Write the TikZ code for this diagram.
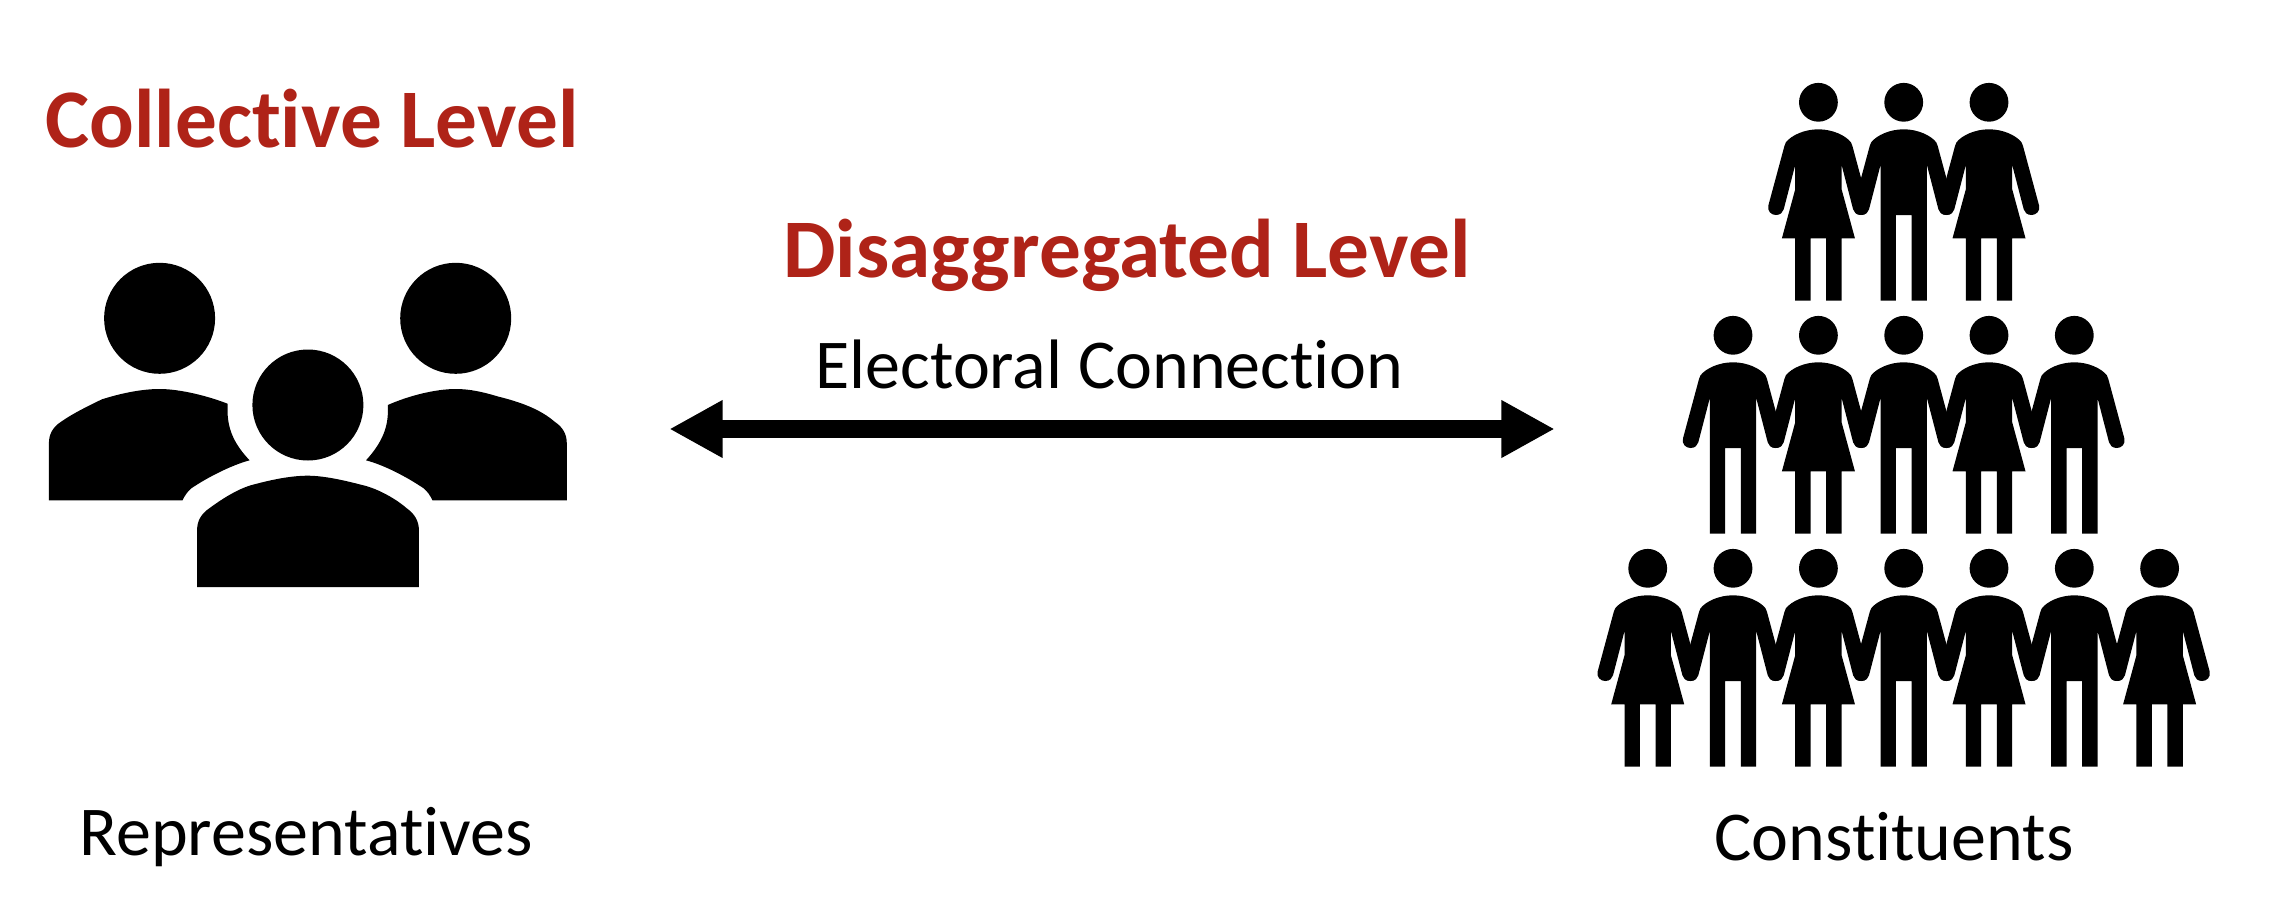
\documentclass[tikz,border=0pt]{standalone}
\usepackage{fontspec}
\setmainfont[Ligatures=NoCommon]{Carlito}
\usetikzlibrary{arrows.meta}
\definecolor{levelred}{HTML}{AF2318}
\newcommand{\uphalf}{%
  (0,27) .. controls (-14,27) and (-27,33) .. (-32.5,40) -- (-34,43.7) -- (-50,103)
  .. controls (-51.5,109) and (-47,112.7) .. (-42.5,112.7)
  .. controls (-38,112.7) and (-35.5,110) .. (-34.7,107) -- (-23.2,62.7)}
\newcommand{\uphalfr}{%
  (23.2,62.7) -- (34.7,107) .. controls (35.5,110) and (38,112.7) .. (42.5,112.7)
  .. controls (47,112.7) and (51.5,109) .. (50,103) -- (34,43.7) -- (32.5,40)
  .. controls (27,33) and (14,27) .. (0,27) -- cycle}
\tikzset{
  ink/.style={fill=black,draw=none},
  head/.style={ink},
  titletext/.style={font=\fontsize{83.3}{90}\selectfont\bfseries,text=levelred,inner sep=0pt,anchor=base},
  plaintext/.style={font=\fontsize{70}{80}\selectfont,text=black,inner sep=0pt,anchor=base},
  man/.pic={
    \fill[head] (0,0) circle (19.4);
    \fill[ink] \uphalf -- (-23.2,198.3) -- (-7.8,198.3) -- (-7.8,112.7) -- (7.8,112.7) -- (7.8,198.3) -- (23.2,198.3) -- \uphalfr;
  },
  woman/.pic={
    \fill[head] (0,0) circle (19.4);
    \fill[ink] \uphalf -- (-23.2,87) -- (-36.5,136) -- (-23.2,136) -- (-23.2,198.3) -- (-7.8,198.3) -- (-7.8,136) -- (7.8,136) -- (7.8,198.3) -- (23.2,198.3) -- (23.2,136) -- (36.5,136) -- (23.2,87) -- \uphalfr;
  },
  doublearrow/.style={line width=18pt,
    {Triangle[length=53.4pt,width=54pt]}-{Triangle[length=53.4pt,width=54pt]}},
}
\begin{document}
\begin{tikzpicture}[x=1pt,y=-1pt]
\useasboundingbox (0,0) rectangle (2280,918);
% group icon
\fill[ink] (159.6,318.3) circle (55.5);
\fill[ink] (455.7,318.3) circle (55.5);
\fill[ink] (307.9,405) circle (55.5);
\fill[ink] (48.9,500.3) -- (48.9,443.3) .. controls (48.9,434) and (53,427) .. (61.1,421.7)
  .. controls (72,414) and (88,406) .. (102,399.3)
  .. controls (122,393) and (142,389) .. (159.6,389)
  .. controls (180,389) and (208,396) .. (227.5,403.7) -- (227.5,410)
  .. controls (227.5,430) and (235,445) .. (249.6,460.3)
  .. controls (232,465) and (208,477) .. (191.4,488.3)
  .. controls (188,491) and (185,495) .. (182.5,500.3) -- cycle;
\fill[ink] (566.8,500.3) -- (566.8,443.3) .. controls (566.8,434) and (562.6,427) .. (554.6,421.7)
  .. controls (540,409) and (520,402) .. (498,396.5)
  .. controls (483,392) and (470,389) .. (455.7,389)
  .. controls (435,389) and (408,396) .. (387.9,405) -- (387.9,411)
  .. controls (387.9,430) and (380,445) .. (366,460.3)
  .. controls (384,465) and (407,477) .. (423.6,488.3)
  .. controls (427,491) and (430,495) .. (432.5,500.3) -- cycle;
\fill[ink] (197.1,587) -- (197.1,530) .. controls (197.1,521) and (201,514) .. (209.3,508.3)
  .. controls (222,499) and (236,490) .. (250,485.5)
  .. controls (270,480) and (290,475.7) .. (307.9,475.7)
  .. controls (325,475.7) and (347,481) .. (366,486)
  .. controls (380,490) and (396,499) .. (406.8,508.3)
  .. controls (414.6,514) and (418.9,521) .. (418.9,530) -- (418.9,587) -- cycle;
% people
\foreach \x/\k in {1818.4/woman,1903.7/man,1989/woman}
  \pic at (\x,102.3) {\k};
\foreach \x/\k in {1733/man,1818.4/woman,1903.7/man,1989/woman,2074.3/man}
  \pic at (\x,335.3) {\k};
\foreach \x/\k in {1647.7/woman,1733/man,1818.4/woman,1903.7/man,1989/woman,2074.3/man,2159.6/woman}
  \pic at (\x,568.3) {\k};
% texts
\node[titletext] (collective) at (312,147.7) {Collective Level};
\node[titletext] (disagg) at (1127,277) {Disaggregated Level};
\node[plaintext] (electoral) at (1109.6,388.7) {Electoral Connection};
\node[plaintext] (reps) at (306,855.7) {Representatives};
\node[plaintext] (consts) at (1894,860.7) {Constituents};
% connector
\coordinate (arrowL) at (669.3,429);
\coordinate (arrowR) at (1554.7,429);
\draw[doublearrow] (arrowL) -- (arrowR);
\end{tikzpicture}
\end{document}
